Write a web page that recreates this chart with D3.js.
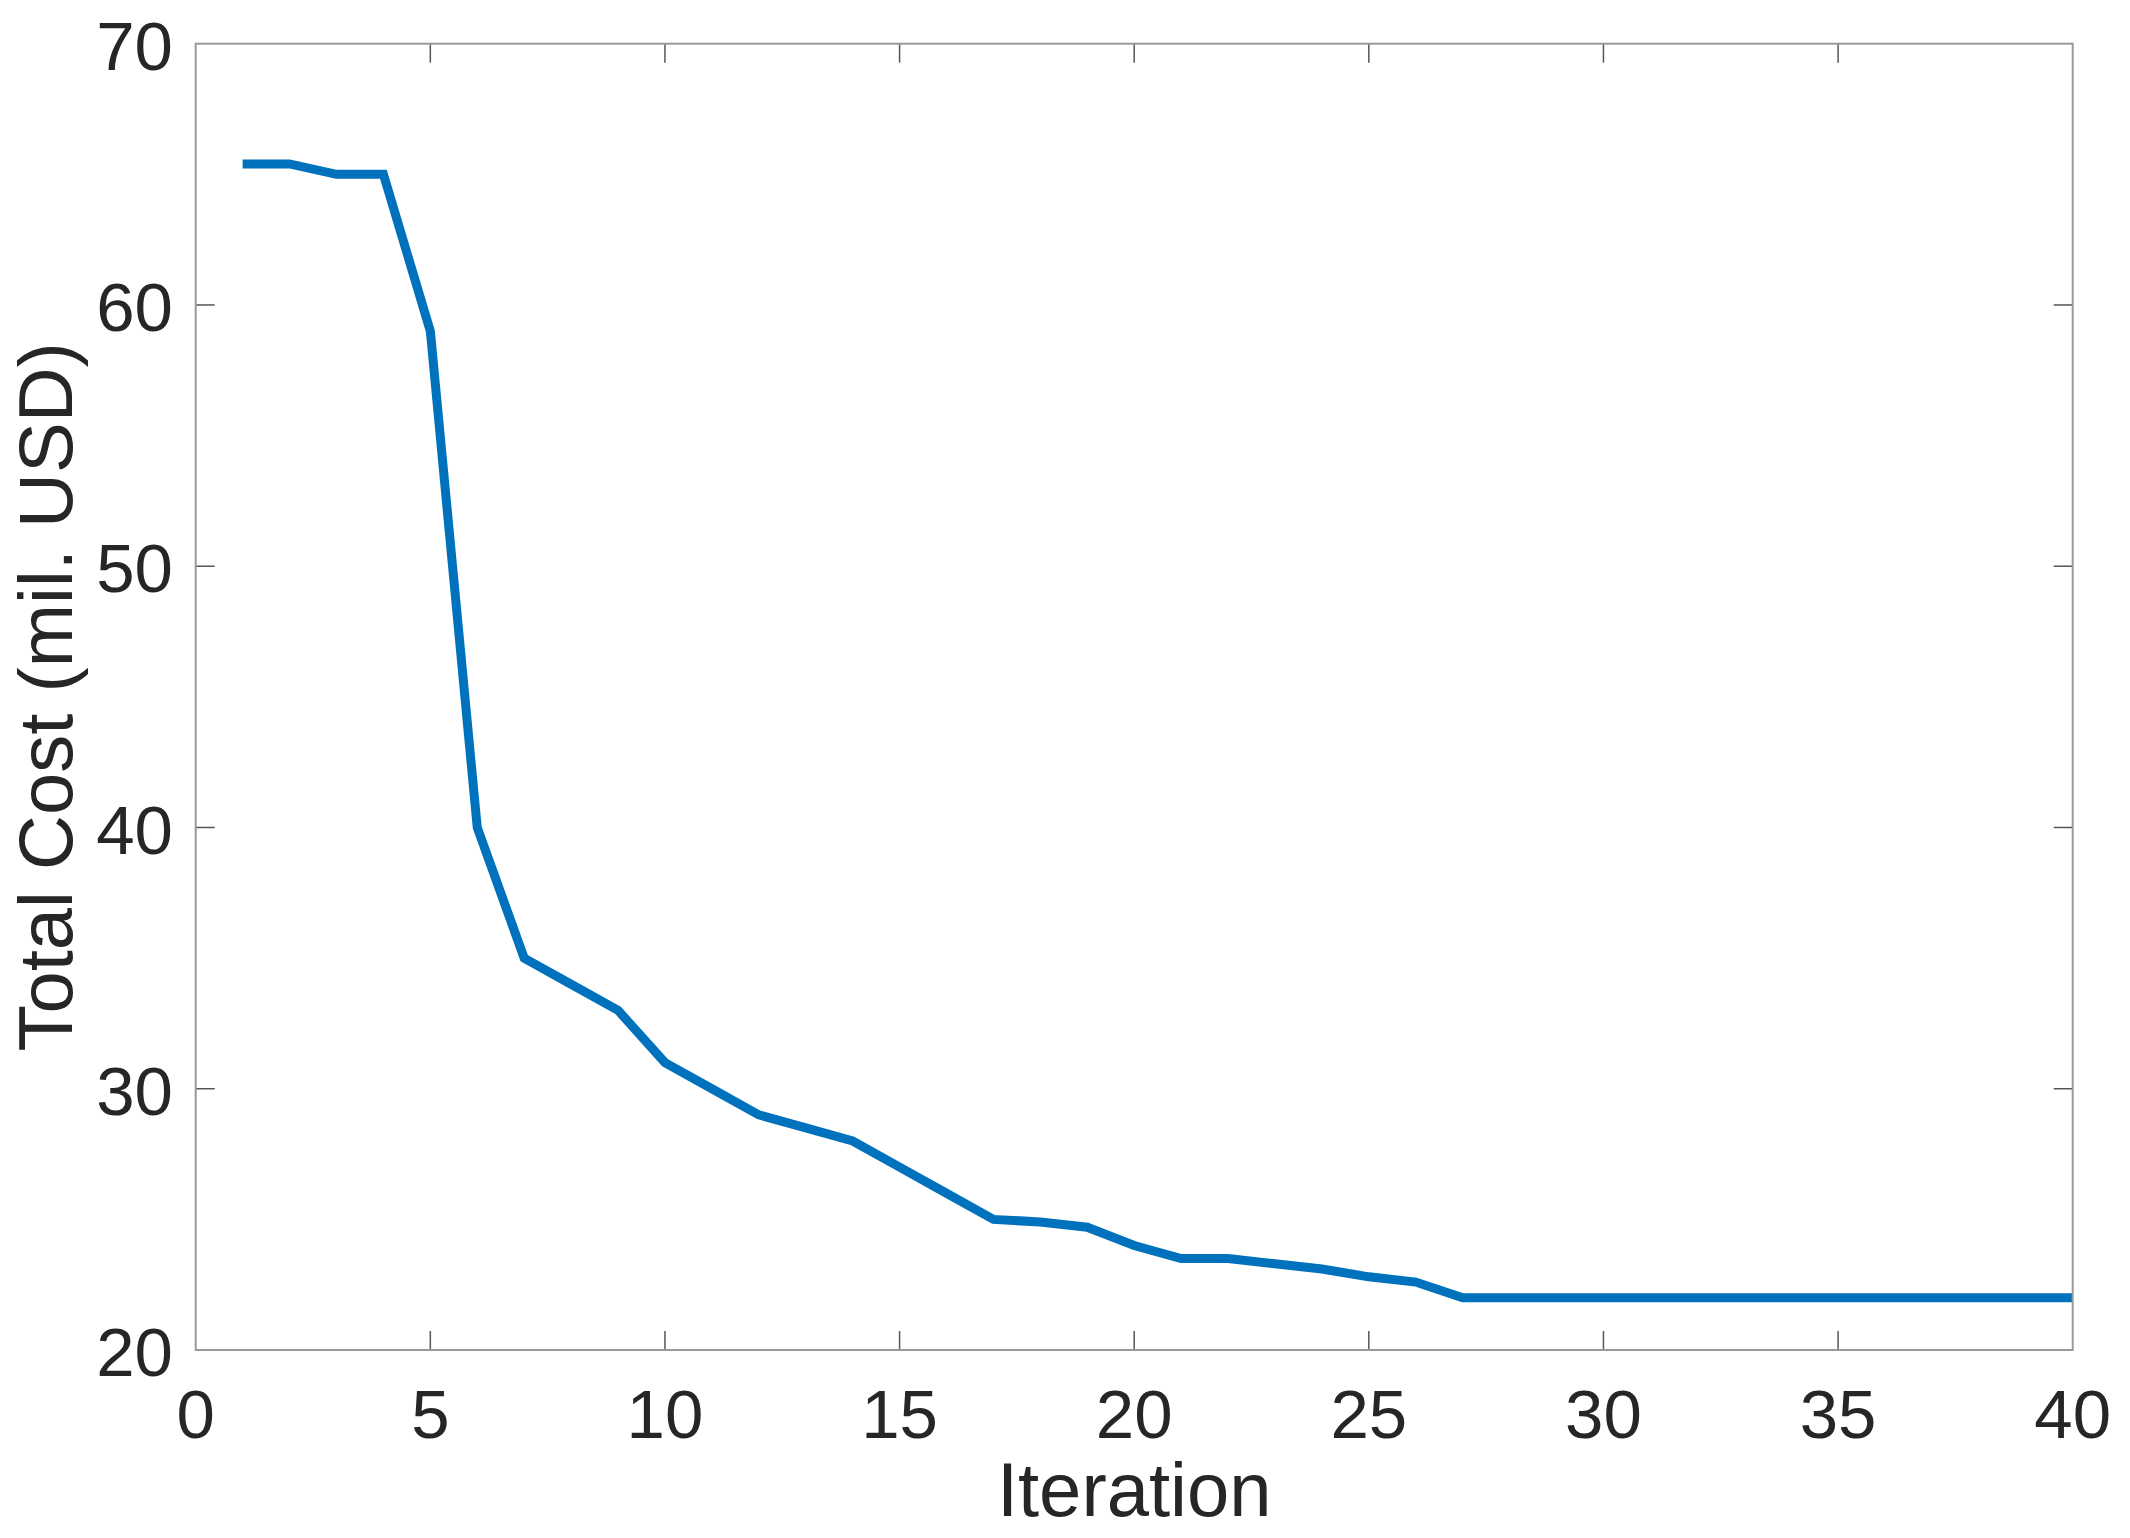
<!DOCTYPE html>
<html>
<head>
<meta charset="utf-8">
<script src="https://cdn.jsdelivr.net/npm/d3@7"></script>
<style>
  html, body { margin: 0; padding: 0; background: #fff; }
  svg { display: block; }
  text { font-family: "Liberation Sans", Arial, Helvetica, sans-serif; fill: #262626; }
</style>
</head>
<body>
<script>
// Data
const iterations = d3.range(1, 41);
const totalCost = [
  65.4, 65.4, 65.0, 65.0, 59.0, 40.0, 35.0, 34.0, 33.0, 31.0,
  30.0, 29.0, 28.5, 28.0, 27.0, 26.0, 25.0, 24.9, 24.7, 24.0,
  23.5, 23.5, 23.3, 23.1, 22.8, 22.6, 22.0, 22.0, 22.0, 22.0,
  22.0, 22.0, 22.0, 22.0, 22.0, 22.0, 22.0, 22.0, 22.0, 22.0
];
const xTicks = [0, 5, 10, 15, 20, 25, 30, 35, 40];
const yTicks = [20, 30, 40, 50, 60, 70];
const xLabel = "Iteration";
const yLabel = "Total Cost (mil. USD)";

(function () {
const W = 2130, H = 1538;
const mLeft = 195.7, mRight = 2072.7, mTop = 43.7, mBottom = 1350;

const svg = d3.select("body").append("svg").attr("width", W).attr("height", H);

const x = d3.scaleLinear().domain([0, 40]).range([mLeft, mRight]);
const y = d3.scaleLinear().domain([20, 70]).range([mBottom, mTop]);

const tickLen = 19;
const tickColor = "#555";
const boxColor = "#999";

// Ticks (inward, all four sides)
const g = svg.append("g");
xTicks.forEach(t => {
  if (t === 0 || t === 40) return;
  g.append("line").attr("x1", x(t)).attr("x2", x(t)).attr("y1", mBottom).attr("y2", mBottom - tickLen)
    .attr("stroke", tickColor).attr("stroke-width", 1.5);
  g.append("line").attr("x1", x(t)).attr("x2", x(t)).attr("y1", mTop).attr("y2", mTop + tickLen)
    .attr("stroke", tickColor).attr("stroke-width", 1.5);
});
yTicks.forEach(t => {
  if (t === 20 || t === 70) return;
  g.append("line").attr("x1", mLeft).attr("x2", mLeft + tickLen).attr("y1", y(t)).attr("y2", y(t))
    .attr("stroke", tickColor).attr("stroke-width", 1.5);
  g.append("line").attr("x1", mRight).attr("x2", mRight - tickLen).attr("y1", y(t)).attr("y2", y(t))
    .attr("stroke", tickColor).attr("stroke-width", 1.5);
});

// Line
const line = d3.line().x((d, i) => x(iterations[i])).y(d => y(d));
svg.append("path").datum(totalCost)
  .attr("d", line)
  .attr("fill", "none")
  .attr("stroke", "#0072BD")
  .attr("stroke-width", 9)
  .attr("stroke-linejoin", "miter");

// Box
svg.append("rect").attr("x", mLeft).attr("y", mTop).attr("width", mRight - mLeft).attr("height", mBottom - mTop)
  .attr("fill", "none").attr("stroke", boxColor).attr("stroke-width", 2);

// Tick labels
const fs = 69;
xTicks.forEach(t => {
  svg.append("text").attr("x", x(t)).attr("y", 1438).attr("text-anchor", "middle")
    .attr("font-size", fs).text(t);
});
yTicks.forEach(t => {
  svg.append("text").attr("x", 173).attr("y", y(t)).attr("dy", "0.38em").attr("text-anchor", "end")
    .attr("font-size", fs).text(t);
});

// Axis labels
svg.append("text").attr("x", (mLeft + mRight) / 2).attr("y", 1516).attr("text-anchor", "middle")
  .attr("font-size", 76).text(xLabel);
svg.append("text").attr("transform", `translate(72, ${(mTop + mBottom) / 2}) rotate(-90)`)
  .attr("text-anchor", "middle").attr("font-size", 76).text(yLabel);
})();
</script>
</body>
</html>
